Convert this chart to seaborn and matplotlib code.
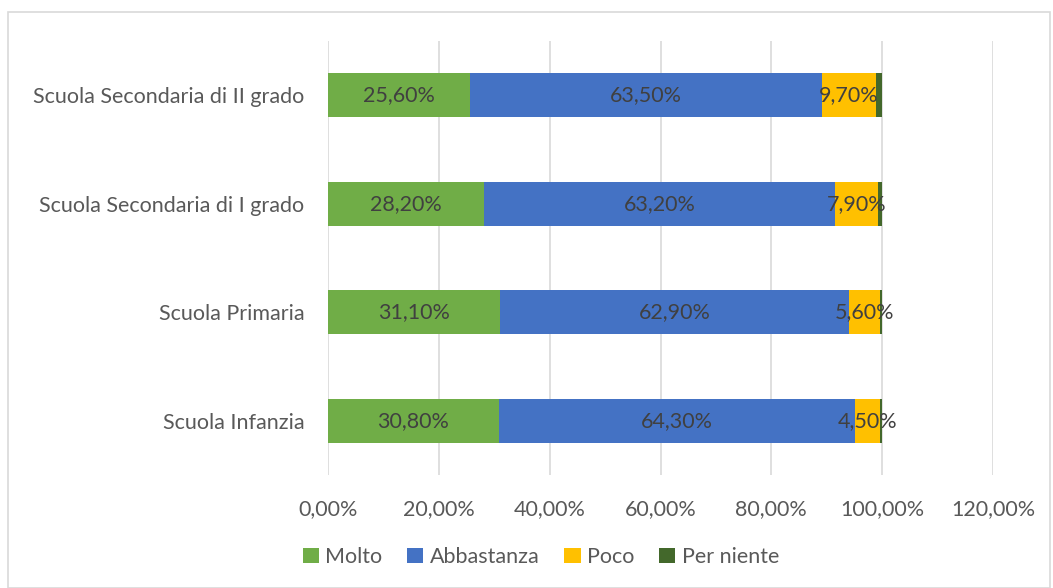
import matplotlib
matplotlib.use("Agg")
import matplotlib.pyplot as plt
import seaborn as sns
import pandas as pd
import numpy as np
from matplotlib.patches import Rectangle, Patch
from matplotlib.ticker import FuncFormatter, MultipleLocator

categories = ["Scuola Secondaria di II grado", "Scuola Secondaria di I grado",
              "Scuola Primaria", "Scuola Infanzia"]
series_names = ["Molto", "Abbastanza", "Poco", "Per niente"]
molto = [25.6, 28.2, 31.1, 30.8]
abbastanza = [63.5, 63.2, 62.9, 64.3]
poco = [9.7, 7.9, 5.6, 4.5]
per_niente = [1.2, 0.7, 0.4, 0.4]
colors = ["#70AD47", "#4472C4", "#FFC000", "#43682B"]

sns.set_theme(style="white")
plt.rcParams['font.family'] = ['Lato', 'DejaVu Sans']

values = [molto, abbastanza, poco, per_niente]
df = pd.DataFrame({"cat": categories})
for name, v in zip(series_names, values):
    df[name] = np.array(v) / 100.0
cum = df[series_names].cumsum(axis=1)

fig = plt.figure(figsize=(10.53, 5.88), dpi=100)
ax = fig.add_axes([328/1053, 1-475/588, (993-328)/1053, (475-41)/588])

# draw cumulative layers from back to front
for i in range(len(series_names) - 1, -1, -1):
    sns.barplot(data=pd.DataFrame({"cat": categories, "v": cum[series_names[i]]}),
                x="v", y="cat", orient="h", color=colors[i], saturation=1,
                width=0.41, ax=ax, zorder=3, linewidth=0)

# labels for first three series
for i, name in enumerate(series_names[:3]):
    for j in range(len(categories)):
        val = df[name].iloc[j]
        center = cum[name].iloc[j] - val / 2
        ax.text(center, j, f"{val*100:.2f}%".replace(".", ","), ha="center", va="center",
                fontsize=15.5, color="#404040", zorder=5)

ax.set_xlim(0, 1.2)
ax.set_ylim(3.5, -0.5)
ax.xaxis.set_major_locator(MultipleLocator(0.2))
ax.xaxis.set_major_formatter(FuncFormatter(lambda x, p: f"{x*100:.2f}%".replace(".", ",")))
ax.grid(axis="x", color="#D9D9D9", linewidth=1.2, zorder=0)
ax.set_axisbelow(True)
for s in ax.spines.values():
    s.set_visible(False)
ax.set_xlabel("")
ax.set_ylabel("")
ax.tick_params(axis="both", length=0, labelsize=15.5, labelcolor="#595959")
ax.tick_params(axis="y", pad=17)
ax.tick_params(axis="x", pad=17)

handles = [Patch(facecolor=c, edgecolor="none") for c in colors]
fig.legend(handles, series_names, loc="center", bbox_to_anchor=(541/1053, 1-557/588),
           ncol=4, frameon=False, fontsize=15.5, handlelength=0.75, handleheight=0.75,
           handletextpad=0.3, columnspacing=1.15, labelcolor="#595959")

fig.patches.append(Rectangle((8/1053, 0.0), 1042/1053, 1-12/588, transform=fig.transFigure,
                             fill=False, edgecolor="#D9D9D9", linewidth=1.2))

fig.savefig("out.png", dpi=100)
